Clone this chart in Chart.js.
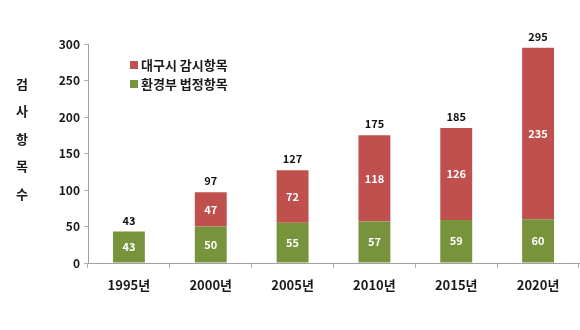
<!DOCTYPE html>
<html>
<head>
<meta charset="utf-8">
<script src="https://cdn.jsdelivr.net/npm/chart.js@4"></script>
<style>
  html, body { margin: 0; padding: 0; background: #fff; }
  #wrap { width: 580px; height: 330px; }
</style>
</head>
<body>
<div id="wrap"><canvas id="chart" width="580" height="330"></canvas></div>
<script>
const years = ['1995년', '2000년', '2005년', '2010년', '2015년', '2020년'];
const legalItems = [43, 50, 55, 57, 59, 60];
const daeguItems = [0, 47, 72, 118, 126, 235];
const totals = [43, 97, 127, 175, 185, 295];
const yTitle = ['검', '사', '항', '목', '수'];

const FONT = '"Noto Sans CJK KR", "Noto Sans", sans-serif';
const RED = '#C0504D';
const GREEN = '#77933C';

const labelPlugin = {
    id: 'labels',
    afterDatasetsDraw(chart) {
        const ctx = chart.ctx;
        ctx.save();
        ctx.textAlign = 'center';
        ctx.textBaseline = 'middle';
        ctx.font = 'bold 11px ' + FONT;

        // values inside the segments
        chart.data.datasets.forEach((ds, di) => {
            const meta = chart.getDatasetMeta(di);
            meta.data.forEach((bar, i) => {
                if (!ds.data[i]) return;
                ctx.fillStyle = '#ffffff';
                ctx.fillText(ds.data[i], bar.x, (bar.y + bar.base) / 2);
            });
        });

        // totals above the bars
        const topMeta = chart.getDatasetMeta(1);
        const yScale = chart.scales.y;
        topMeta.data.forEach((bar, i) => {
            ctx.fillStyle = '#111111';
            ctx.fillText(totals[i], bar.x, yScale.getPixelForValue(totals[i]) - 11);
        });

        // legend inside the plot
        const legend = [[RED, '대구시 감시항목'], [GREEN, '환경부 법정항목']];
        ctx.textAlign = 'left';
        ctx.font = 'bold 13px ' + FONT;
        legend.forEach(([color, text], k) => {
            const y = 65 + k * 19;
            ctx.fillStyle = color;
            ctx.fillRect(130, y - 4, 8, 8);
            ctx.fillStyle = '#1a1a1a';
            ctx.fillText(text, 141, y);
        });

        // vertical y axis title
        ctx.textAlign = 'center';
        ctx.font = 'bold 13px ' + FONT;
        ctx.fillStyle = '#1a1a1a';
        yTitle.forEach((ch, k) => {
            ctx.fillText(ch, 22, 84 + k * 27.5);
        });
        ctx.restore();
    }
};

new Chart(document.getElementById('chart'), {
    type: 'bar',
    data: {
        labels: years,
        datasets: [
            {
                label: '환경부 법정항목',
                data: legalItems,
                backgroundColor: GREEN,
                barPercentage: 0.39,
                categoryPercentage: 1.0
            },
            {
                label: '대구시 감시항목',
                data: daeguItems,
                backgroundColor: RED,
                barPercentage: 0.39,
                categoryPercentage: 1.0
            }
        ]
    },
    options: {
        responsive: false,
        animation: false,
        layout: { padding: { top: 44, right: 1, left: 0, bottom: 0 } },
        plugins: {
            legend: { display: false },
            tooltip: { enabled: false }
        },
        scales: {
            x: {
                stacked: true,
                afterFit: scale => { scale.height = 67; },
                grid: {
                    offset: true,
                    drawOnChartArea: false,
                    tickLength: 5,
                    color: '#b0b0b0'
                },
                border: { color: '#a0a0a0' },
                ticks: {
                    padding: 9,
                    color: '#1a1a1a',
                    font: { family: FONT, size: 13, weight: 'bold' }
                }
            },
            y: {
                stacked: true,
                min: 0,
                max: 300,
                afterFit: scale => { scale.width = 88; },
                grid: {
                    drawOnChartArea: false,
                    tickLength: 4,
                    color: '#b0b0b0'
                },
                border: { color: '#a0a0a0' },
                ticks: {
                    stepSize: 50,
                    padding: 4,
                    color: '#1a1a1a',
                    font: { family: FONT, size: 12, weight: 'bold' }
                }
            }
        }
    },
    plugins: [labelPlugin]
});
</script>
</body>
</html>
